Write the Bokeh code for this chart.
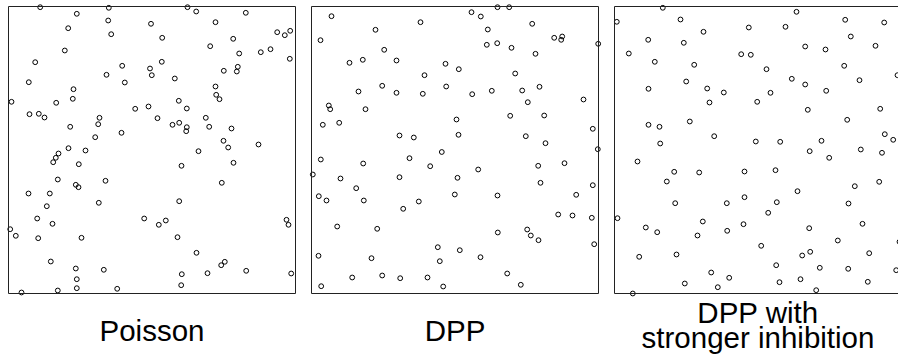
from bokeh.plotting import figure
from bokeh.layouts import row
from bokeh.models import BoxAnnotation, Range1d
from bokeh.core.properties import value
from bokeh.embed import file_html
from bokeh.resources import INLINE

# Side length of the square observation window (same units for x and y).
WINDOW = 287

# Point patterns, one list of (x, y) locations per process.
poisson_pts = [
    (31.7, 286.3), (68.3, 279.7), (100.3, 285.7), (99.7, 273), (142.5, 269.7),
    (59.7, 265.3), (102.7, 259.3), (56.3, 243), (26.7, 231.3), (113.7, 227.7),
    (141.5, 225), (143.3, 218.3), (98, 218.7), (20.3, 211.3), (116.3, 211),
    (65, 204.3), (3, 191.7), (64.3, 194.7), (47.7, 190.7), (126.7, 184.7),
    (140, 187), (21, 179.3), (30.3, 179.7), (36, 176), (91, 175.7),
    (89.7, 169.3), (61.7, 166.7), (113, 160.7), (86.7, 156.3), (60, 145.3),
    (77, 143), (50, 140), (47.3, 135.7), (44.7, 131.3), (70.3, 129.3),
    (49.3, 114), (67.3, 108.7), (70, 106.3), (97, 112.7), (20, 100),
    (41.3, 100), (90.3, 90.7), (38.3, 87.3), (28.7, 75), (135.7, 75),
    (44, 69.7), (1.7, 64.3), (7.3, 57.7), (29.7, 55.3), (73, 55.7),
    (42.3, 32), (67.3, 25), (95.3, 23.7), (68.3, 14.3), (68.3, 5.3),
    (49.3, 3), (108.7, 4.7), (13, 1), (179, 286.3), (187.7, 282),
    (237.3, 280.7), (207, 271.3), (153.7, 255.7), (224.7, 254.7), (268.7, 261.3),
    (276.3, 258.3), (281.7, 262.7), (201.7, 247.3), (230.7, 240), (252.3, 241.3),
    (262, 244.3), (281.3, 234.7), (153.3, 231.7), (215.3, 222.7), (229.3, 226.7),
    (228.3, 222), (166.3, 215), (207, 207), (207.7, 198.7), (211, 194.3),
    (170.3, 192.7), (178.3, 185), (149, 175.3), (197.3, 175.7), (164, 168.7),
    (170.7, 170.7), (178.3, 166.3), (177.7, 162.3), (200.7, 166.7), (223, 165),
    (215, 152.7), (219.7, 146), (250, 149), (190, 142.3), (173, 127.7),
    (225, 130.7), (213.3, 110.7), (170.7, 92.3), (157.3, 73), (150.3, 68.7),
    (278, 73.7), (280, 68.7), (169, 56.3), (188, 40.7), (216.3, 31.7),
    (212.7, 28.3), (173.3, 19.3), (199, 20.3), (237.7, 22.7), (282.7, 20),
    (172.7, 8.3),
]

dpp_pts = [
    (20, 277.3), (109, 271.3), (64, 263.7), (9, 253.3), (72.7, 243.7),
    (38, 230.7), (51.3, 233.7), (85, 233), (134, 229.7), (113, 218.3),
    (70.7, 207.7), (47, 202), (85, 200.7), (111.3, 199.7), (134.7, 207),
    (17.3, 188), (18.7, 184.3), (54, 184.3), (11.3, 168.7), (27.7, 170.7),
    (88, 158), (102.3, 156), (130.3, 141.5), (186, 286.3), (197.7, 286.3),
    (160, 281.3), (169.3, 277), (220.7, 269.7), (176.3, 264), (242.7, 255.7),
    (250.7, 257), (249.7, 253.7), (286.7, 249.7), (175.3, 248.7), (185.7, 250.3),
    (200, 245.7), (224, 239.7), (147.3, 224.3), (203.7, 220), (160.7, 199.3),
    (180.3, 202.7), (210.7, 203), (228, 206.7), (216.3, 191.3), (272, 194),
    (145, 174), (198.7, 177.7), (232.7, 178), (147, 158.7), (214.3, 157.3),
    (234, 150.3), (281.3, 164.7), (286.3, 144.3), (9.3, 134), (51.7, 130),
    (98, 135.3), (118.7, 127.3), (1.3, 119), (29, 115), (88, 116.3),
    (44.7, 105.3), (7.3, 97.3), (15, 93), (52.3, 93), (107.3, 92),
    (91.7, 84.7), (25.7, 67), (65.7, 64.7), (126.3, 46.3), (7, 37.7),
    (60, 35.3), (128.3, 32.3), (40.7, 16), (70.7, 18), (88.7, 15.3),
    (116, 16), (9.7, 7.3), (131.7, 7), (166.7, 124), (146, 115.7),
    (143.3, 99), (186, 98), (226.7, 127.7), (253, 130.3), (229, 110.7),
    (281.3, 108.3), (264.7, 98.7), (246.7, 79), (261, 78), (280.3, 75.7),
    (186.3, 61), (215.7, 64), (219.3, 58), (227, 53.3), (282.7, 49.3),
    (148.3, 43.3), (169, 36.3), (195.7, 20), (209.3, 8.7),
]

strong_pts = [
    (48.3, 285.7), (2.3, 271.7), (66, 274), (89, 261.7), (134.3, 266),
    (33.7, 253.7), (69.3, 250.7), (14.3, 240), (40.3, 231.7), (79.7, 228.7),
    (126.7, 239.3), (136.3, 238.7), (71.7, 212), (34, 204.7), (92.7, 205),
    (109.3, 201), (95, 191), (34, 168.7), (45, 166.7), (75.3, 172),
    (99.7, 157.3), (45.7, 150), (182, 281.7), (171, 266.7), (230.7, 273.7),
    (269.7, 271), (236.3, 257), (190.7, 247), (211, 244), (261, 247.7),
    (152, 224.3), (229.7, 227.7), (177.3, 214.7), (190.7, 209), (245, 213.3),
    (283, 218.3), (156, 200.7), (211.7, 202.7), (142.7, 191.7), (193.3, 183.7),
    (232.7, 173.7), (265.7, 184.7), (270.3, 159.3), (278.7, 153.7), (141.3, 152),
    (165.7, 151.7), (207, 152.7), (195.2, 142.3), (246.3, 144), (267.5, 140.7),
    (23, 132), (59.7, 121.7), (84.7, 121), (130, 122), (52.3, 112),
    (60.7, 90.3), (112.3, 90.3), (130, 96.3), (3, 75.3), (31.3, 66),
    (42.7, 61.3), (88.3, 72), (83, 58), (112.7, 62.7), (129, 69.3),
    (24.7, 36.7), (62, 39), (96.7, 21), (114.7, 15.7), (70.3, 10),
    (103.3, 6.3), (18.3, 0), (214.7, 135.7), (161, 123.3), (183, 102.3),
    (240.3, 107.3), (264.7, 111.7), (162.3, 91.3), (234, 90), (153.7, 80.7),
    (194.7, 65.3), (248, 69.7), (223.3, 53), (285, 51.7), (146.7, 47.7),
    (187.7, 38), (195.7, 41.7), (254.7, 40.3), (161.7, 28.3), (205.3, 25.7),
    (233.7, 24.7), (281.7, 23.3), (165, 11.3), (186, 14.3), (253.3, 11.7),
    (201.7, 3.3),
]

# Caption lines under each window.
captions = [
    ["Poisson"],
    ["DPP"],
    ["DPP with", "stronger inhibition"],
]

FONT = "Liberation Sans"
HEIGHT = 358
MARGIN_X = 8      # space left of each window
MARGIN_TOP = 6    # space above the windows
# Caption line positions, in window units below the window.
ONE_LINE_BASELINE = -37
TWO_LINE_BASELINES = [-19, -44]


def panel(points, caption, width):
    # The plotting frame covers the whole canvas, so nothing near the
    # window edge is cut off and the captions can sit under the window.
    y_top = WINDOW + MARGIN_TOP
    p = figure(
        width=width, height=HEIGHT,
        output_backend="svg", toolbar_location=None,
        x_range=Range1d(-MARGIN_X, width - MARGIN_X),
        y_range=Range1d(y_top - HEIGHT, y_top),
        x_axis_location=None, y_axis_location=None,
        min_border=0,
    )
    p.grid.visible = False
    p.outline_line_color = None
    p.background_fill_color = "white"
    p.border_fill_color = "white"

    xs = [pt[0] for pt in points]
    ys = [pt[1] for pt in points]
    p.scatter(xs, ys, marker="circle", size=4.8, fill_color=None,
              line_color="black", line_width=1)

    p.add_layout(BoxAnnotation(left=0, right=WINDOW, bottom=0, top=WINDOW,
                               fill_color=None, line_color="#222222",
                               line_alpha=1, line_width=1))

    baselines = [ONE_LINE_BASELINE] if len(caption) == 1 else TWO_LINE_BASELINES
    p.text(x=[WINDOW / 2] * len(caption), y=baselines, text=caption,
           text_align="center", text_baseline="alphabetic",
           text_font=value(FONT), text_font_size="29.5px", text_color="black")
    return p


p1 = panel(poisson_pts, captions[0], 303)
p2 = panel(dpp_pts, captions[1], 303)
p3 = panel(strong_pts, captions[2], 292)

layout = row(p1, p2, p3, spacing=0)
open("out.html", "w").write(file_html(layout, INLINE))
